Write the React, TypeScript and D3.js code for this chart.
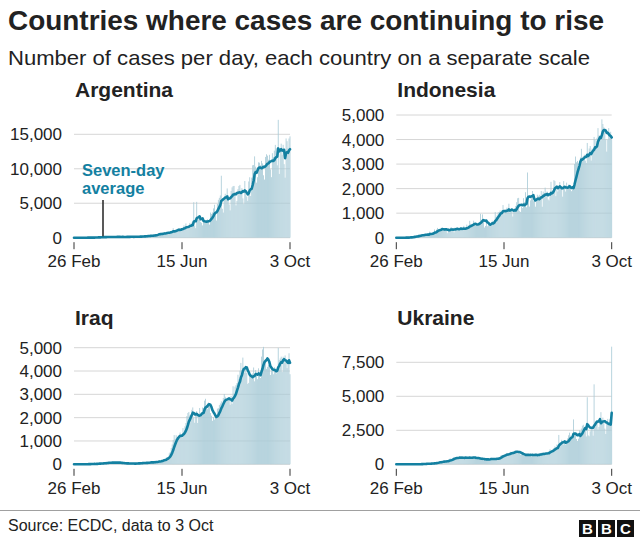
import React from "react";
import * as d3 from "d3";

// ---------- DATA ----------
const startDay = "2020-02-26";
const endDay = "2020-10-03";
const xTickDays = ["2020-02-26", "2020-06-15", "2020-10-03"];
const xTickLabels = ["26 Feb", "15 Jun", "3 Oct"];
const countryNames = ["Argentina", "Indonesia", "Iraq", "Ukraine"];

const argentinaTicks = [0, 5000, 10000, 15000];
const indonesiaTicks = [0, 1000, 2000, 3000, 4000, 5000];
const iraqTicks = [0, 1000, 2000, 3000, 4000, 5000];
const ukraineTicks = [0, 2500, 5000, 7500];

// daily new cases, 26 Feb .. 3 Oct (221 days)
const argentinaCases = [
  0, 0, 0, 0, 0, 0, 1,
  0, 1, 5, 2, 7, 2, 1,
  12, 3, 11, 9, 14, 17, 31,
  30, 27, 67, 36, 86, 41, 86,
  87, 55, 101, 101, 81, 88, 132,
  98, 102, 113, 127, 114, 89, 98,
  76, 130, 168, 126, 110, 95, 81,
  143, 89, 118, 112, 110, 139, 101,
  142, 143, 168, 112, 85, 134, 122,
  144, 158, 139, 173, 173, 164, 153,
  240, 213, 237, 207, 245, 300, 316,
  262, 306, 291, 269, 355, 439, 456,
  470, 513, 627, 631, 494, 574, 553,
  703, 638, 767, 816, 795, 727, 631,
  904, 979, 983, 1386, 808, 713, 1141,
  1225, 1391, 1386, 1297, 946, 1208, 1374,
  1794, 1634, 2060, 1581, 1220, 1531, 2146,
  1926, 2189, 2146, 5150, 1758, 1386, 5200,
  2606, 2667, 2845, 2286, 2151, 1786, 2590,
  2332, 2456, 2573, 2667, 2373, 1908, 3645,
  3449, 3663, 4250, 4783, 3428, 2495, 4890,
  5493, 5782, 6127, 8990, 4197, 3645, 5641,
  6377, 5929, 7147, 6134, 4824, 3965, 6792,
  7298, 7482, 7513, 6365, 4688, 5341, 7043,
  7498, 7663, 6840, 7187, 5704, 4878, 8225,
  6693, 5965, 5352, 8159, 8771, 6040, 8713,
  10504, 10550, 11800, 10309, 7987, 8771, 10933,
  10881, 10504, 11148, 10776, 9056, 8431, 11717,
  12100, 11905, 11309, 12027, 9909, 8782, 12259,
  11717, 12625, 13467, 12982, 10504, 17100, 9253,
  13000, 13644, 12027, 13477, 10667, 8713, 14400,
  14001, 12969, 14392, 14700,
];

const indonesiaCases = [
  0, 0, 0, 0, 0, 2, 0,
  0, 2, 2, 13, 8, 7, 0,
  35, 27, 0, 38, 55, 82, 60,
  81, 64, 65, 106, 105, 153, 103,
  109, 130, 129, 114, 149, 113, 247,
  196, 106, 181, 218, 337, 219, 330,
  399, 316, 282, 331, 407, 399, 284,
  297, 380, 327, 185, 375, 283, 357,
  436, 396, 275, 214, 415, 347, 433,
  395, 336, 367, 317, 292, 395, 484,
  367, 337, 533, 387, 414, 689, 568,
  490, 496, 693, 573, 489, 490, 526,
  579, 615, 973, 678, 949, 687, 415,
  479, 700, 467, 557, 609, 484, 603,
  693, 647, 672, 1043, 841, 917, 1031,
  1043, 1106, 1014, 1111, 1331, 954, 1017,
  1051, 1226, 1082, 1385, 1018, 1093, 1198,
  862, 1082, 1209, 1294, 1447, 1607, 1624,
  1082, 1047, 1268, 1209, 1611, 1447, 1853,
  1240, 2657, 1671, 1268, 1522, 1611, 1904,
  1489, 1565, 1263, 1489, 1752, 1693, 1748,
  1688, 1906, 1262, 1879, 1815, 2040, 1695,
  1882, 1560, 1519, 1815, 2277, 1893, 1942,
  2345, 2307, 1693, 2098, 1882, 2081, 2266,
  2037, 2085, 1673, 2306, 2090, 1882, 2244,
  2004, 2163, 1997, 1979, 1896, 2085, 2037,
  3003, 3308, 3075, 3128, 2858, 3046, 3269,
  3622, 3269, 3328, 3380, 3141, 3046, 3861,
  3307, 3636, 3737, 3141, 3636, 3507, 4106,
  3989, 3644, 4071, 4465, 4176, 4168, 3963,
  4823, 4634, 4501, 4442, 4002, 3509, 3989,
  4465, 4284, 4317, 4007,
];

const iraqCases = [
  0, 0, 1, 0, 4, 0, 1,
  3, 6, 1, 9, 0, 10, 0,
  0, 21, 8, 18, 13, 13, 19,
  24, 16, 17, 32, 40, 50, 30,
  40, 35, 47, 76, 50, 61, 75,
  78, 80, 60, 58, 81, 67, 92,
  83, 62, 73, 75, 54, 64, 41,
  52, 35, 49, 38, 31, 42, 50,
  28, 24, 33, 25, 41, 30, 27,
  31, 35, 44, 64, 48, 71, 33,
  55, 64, 47, 70, 78, 82, 65,
  81, 109, 96, 86, 67, 114, 88,
  120, 111, 154, 163, 109, 148, 201,
  210, 221, 210, 288, 312, 286, 473,
  530, 700, 850, 1044, 1253, 1090, 1250,
  1183, 1168, 1217, 1362, 1254, 1140, 1554,
  1366, 1635, 1772, 2071, 2200, 2244, 2102,
  2101, 2336, 2438, 1985, 1781, 2230, 2285,
  1773, 2146, 2415, 2063, 2222, 2436, 2415,
  2731, 2810, 2523, 2367, 2651, 2541, 2200,
  2085, 1866, 2013, 1918, 2003, 2115, 2386,
  2406, 2541, 2610, 2701, 2553, 2842, 3014,
  2898, 2756, 2712, 2837, 2749, 2551, 2934,
  2584, 3346, 3037, 3330, 3396, 3484, 3841,
  3651, 4013, 4348, 4034, 4576, 4179, 3932,
  4090, 3915, 3448, 3490, 3842, 3867, 3726,
  3895, 4152, 3558, 4040, 3863, 3651, 4116,
  3809, 3700, 4618, 4925, 5036, 4478, 4441,
  4092, 4180, 4264, 4188, 3829, 4037, 4007,
  3860, 4168, 4111, 3893, 4052, 4993, 4469,
  4542, 4616, 3955, 4616, 4357, 4669, 4410,
  4125, 4280, 4762, 3864,
];

const ukraineCases = [
  0, 0, 0, 0, 0, 0, 1,
  0, 0, 0, 0, 0, 0, 0,
  0, 2, 0, 0, 4, 1, 9,
  9, 5, 10, 6, 12, 29, 36,
  29, 37, 36, 50, 50, 35, 55,
  56, 77, 78, 80, 100, 88, 119,
  146, 163, 193, 207, 180, 206, 192,
  249, 201, 223, 303, 265, 312, 440,
  375, 352, 437, 540, 458, 502, 541,
  455, 418, 550, 476, 497, 447, 507,
  429, 522, 502, 457, 477, 540, 454,
  456, 551, 550, 475, 397, 367, 406,
  504, 460, 396, 372, 340, 258, 339,
  431, 416, 375, 368, 322, 340, 477,
  463, 393, 361, 349, 346, 476, 460,
  528, 561, 664, 683, 679, 640, 718,
  747, 834, 780, 720, 807, 926, 904,
  856, 874, 994, 1009, 920, 861, 841,
  796, 708, 686, 765, 651, 645, 617,
  759, 737, 692, 677, 745, 570, 669,
  679, 760, 767, 651, 649, 571, 770,
  828, 846, 857, 742, 739, 684, 841,
  870, 922, 945, 1106, 990, 961, 1067,
  1197, 1318, 1271, 1453, 1143, 2160, 1592,
  1592, 1801, 1588, 1453, 1642, 1453, 1767,
  1905, 2134, 2328, 2106, 1967, 1879, 3300,
  2134, 2165, 1863, 1716, 1879, 2495, 2430,
  2629, 2836, 2905, 2761, 2556, 2048, 4930,
  2124, 2061, 2423, 2638, 2541, 2105, 5880,
  2744, 2972, 3184, 2552, 2751, 3130, 3833,
  3184, 3433, 3241, 2627, 2232, 2991, 3341,
  2937, 3307, 3027, 8650,
];

const titleText = "Countries where cases are continuing to rise";
const subtitleText = "Number of cases per day, each country on a separate scale";
const sourceText = "Source: ECDC, data to 3 Oct";
const annotationLines = ["Seven-day", "average"];

// ---------- STYLE ----------
const FONT = "'Liberation Sans', Arial, Helvetica, sans-serif";
const LINE_COLOR = "#1380a1";
const BAR_COLOR = "#a9cbd7";
const GRID_COLOR = "#d6d6d6";
const TEXT_COLOR = "#222222";

const parse = d3.utcParse("%Y-%m-%d");

function Panel({ values, ticks, left, right, base, topY, showAnnotation }: any) {
  const start = parse(startDay)!;
  const end = parse(endDay)!;
  const x = d3.scaleUtc().domain([start, end]).range([left, right]);
  const y = d3.scaleLinear().domain([0, ticks[ticks.length - 1]]).range([base, topY]);
  const days = values.map((_: number, i: number) => d3.utcDay.offset(start, i));
  const step = (right - left) / (values.length - 1);
  const avg = values.map((_: number, i: number) =>
    d3.mean(values.slice(Math.max(0, i - 6), i + 1)) as number
  );
  const line = d3
    .line<number>()
    .x((_, i) => x(days[i]))
    .y((d) => y(d));
  const fmt = d3.format(",");
  return (
    <g>
      {ticks.map((t: number) => (
        <g key={t}>
          <line x1={left} x2={right} y1={y(t)} y2={y(t)} stroke={GRID_COLOR} strokeWidth={1} />
          <text
            x={left - 12}
            y={y(t)}
            dy="0.36em"
            textAnchor="end"
            fontSize={17}
            fill={TEXT_COLOR}
            fontFamily={FONT}
          >
            {fmt(t)}
          </text>
        </g>
      ))}
      {values.map((v: number, i: number) => (
        <rect
          key={i}
          x={x(days[i]) - step * 0.42}
          width={step * 0.84}
          y={y(v)}
          height={base - y(v)}
          fill={BAR_COLOR}
        />
      ))}
      <path
        d={line(avg) || ""}
        fill="none"
        stroke={LINE_COLOR}
        strokeWidth={2.6}
        strokeLinejoin="round"
        strokeLinecap="round"
      />
      {xTickDays.map((d, i) => {
        const px = x(parse(d)!);
        return (
          <g key={d}>
            <line x1={px} x2={px} y1={base + 4.5} y2={base + 11.5} stroke="#333" strokeWidth={1} />
            <text
              x={px}
              y={base + 29.5}
              textAnchor="middle"
              fontSize={17}
              fill={TEXT_COLOR}
              fontFamily={FONT}
            >
              {xTickLabels[i]}
            </text>
          </g>
        );
      })}
      {showAnnotation && (
        <g>
          <line x1={103} x2={103} y1={200} y2={base - 1.5} stroke="#222" strokeWidth={1.5} />
          {annotationLines.map((s, i) => (
            <text
              key={s}
              x={82}
              y={176 + i * 18}
              fontSize={16.5}
              fontWeight="bold"
              fill={LINE_COLOR}
              fontFamily={FONT}
            >
              {s}
            </text>
          ))}
        </g>
      )}
    </g>
  );
}

export default function App() {
  const panels = [
    { values: argentinaCases, ticks: argentinaTicks, left: 74, right: 290, base: 237.7, topY: 134.3, titleY: 96.5, ann: true },
    { values: indonesiaCases, ticks: indonesiaTicks, left: 396.3, right: 611.7, base: 237.7, topY: 115, titleY: 96.5, ann: false },
    { values: iraqCases, ticks: iraqTicks, left: 74, right: 290, base: 464.3, topY: 347.7, titleY: 324.5, ann: false },
    { values: ukraineCases, ticks: ukraineTicks, left: 396.3, right: 611.7, base: 464.3, topY: 362.3, titleY: 324.5, ann: false },
  ];
  return (
    <svg
      width={640}
      height={540}
      style={{ position: "absolute", left: 0, top: 0, background: "#fff" }}
      fontFamily={FONT}
    >
      <rect x={0} y={0} width={640} height={540} fill="#fff" />
      <text x={8} y={30} fontSize={27} fontWeight="bold" fill={TEXT_COLOR} textLength={596} lengthAdjust="spacingAndGlyphs">
        {titleText}
      </text>
      <text x={8} y={64.5} fontSize={21} fill={TEXT_COLOR} textLength={582} lengthAdjust="spacingAndGlyphs">
        {subtitleText}
      </text>
      {panels.map((p, i) => (
        <g key={countryNames[i]}>
          <text x={p.left + 1} y={p.titleY} fontSize={21} fontWeight="bold" fill={TEXT_COLOR}>
            {countryNames[i]}
          </text>
          <Panel
            values={p.values}
            ticks={p.ticks}
            left={p.left}
            right={p.right}
            base={p.base}
            topY={p.topY}
            showAnnotation={p.ann}
          />
        </g>
      ))}
      <line x1={0} x2={640} y1={510.5} y2={510.5} stroke="#a0a0a0" strokeWidth={1} />
      <text x={8} y={531} fontSize={16} fill={TEXT_COLOR}>
        {sourceText}
      </text>
      {["B", "B", "C"].map((c, i) => (
        <g key={i}>
          <rect x={579 + i * 19} y={520} width={17} height={17} fill="#111" />
          <text
            x={579 + i * 19 + 8.5}
            y={534}
            textAnchor="middle"
            fontSize={15}
            fontWeight="bold"
            fill="#fff"
          >
            {c}
          </text>
        </g>
      ))}
    </svg>
  );
}
